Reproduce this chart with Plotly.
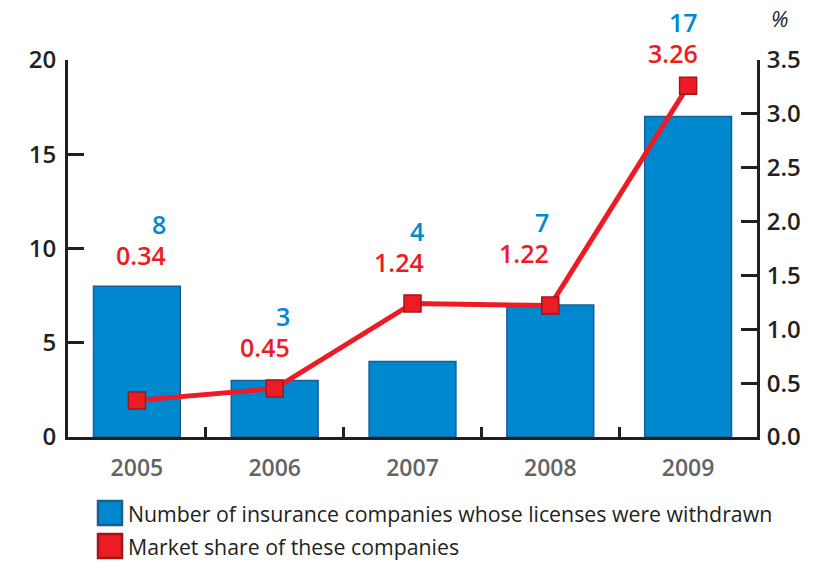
import plotly.graph_objects as go

years = ["2005", "2006", "2007", "2008", "2009"]
companies = [8, 3, 4, 7, 17]
market_share = [0.34, 0.45, 1.24, 1.22, 3.26]
legend_labels = ["Number of insurance companies whose licenses were withdrawn",
                 "Market share of these companies"]

BLUE = "#0088CF"
BLUE_EDGE = "#1B5E91"
RED = "#ED1C24"
RED_EDGE = "#A3151B"
INK = "#231F20"
FONT = "Open Sans"

# figure geometry (page body margin removed below)
W, H = 814, 562
PL, PT, PW, PH = 68, 60, 689, 377


def px(xp):
    return (xp - PL) / PW


def py(yp):
    return (PT + PH - yp) / PH


fig = go.Figure()
fig.add_trace(go.Bar(x=years, y=companies, width=0.63,
                     marker=dict(color=BLUE, line=dict(color=BLUE_EDGE, width=1.5)),
                     showlegend=False, yaxis="y"))
fig.add_trace(go.Scatter(x=years, y=market_share, mode="lines+markers",
                         line=dict(color=RED, width=5),
                         marker=dict(symbol="square", size=17, color=RED,
                                     line=dict(color=RED_EDGE, width=1.5)),
                         showlegend=False, yaxis="y2"))

# label placement offsets (pixels): red label, blue label above it
lab_dx = [30, 16, 12, 0, 11]
lab_dy = [31, 33, 41, 52, 33]
annotations = []
for i, yr in enumerate(years):
    top = max(companies[i], market_share[i] * 20 / 3.5)
    annotations.append(dict(x=i, y=top, xref="x", yref="y", text=f"{market_share[i]:.2f}",
                            showarrow=False, xanchor="right", yanchor="middle",
                            xshift=lab_dx[i], yshift=lab_dy[i], borderpad=0,
                            font=dict(family=FONT, size=25, color=RED, weight=600)))
    annotations.append(dict(x=i, y=top, xref="x", yref="y", text=str(companies[i]),
                            showarrow=False, xanchor="right", yanchor="middle",
                            xshift=lab_dx[i], yshift=lab_dy[i] + 31, borderpad=0,
                            font=dict(family=FONT, size=25, color=BLUE, weight=600)))

annotations.append(dict(x=px(780), y=py(18), xref="paper", yref="paper", text="<i>%</i>",
                        showarrow=False, xanchor="center", yanchor="middle",
                        font=dict(family=FONT, size=22, color=INK)))

# manual legend
shapes = []
leg_colors = [(BLUE, BLUE_EDGE), (RED, RED_EDGE)]
leg_y = [513, 546]
for (fc, ec), ly, txt in zip(leg_colors, leg_y, legend_labels):
    shapes.append(dict(type="rect", xref="paper", yref="paper",
                       x0=px(98), x1=px(122), y0=py(ly + 12), y1=py(ly - 12),
                       fillcolor=fc, line=dict(color=ec, width=2.5)))
    annotations.append(dict(x=px(126), y=py(ly), xref="paper", yref="paper",
                            text=txt, showarrow=False, xanchor="left", yanchor="middle",
                            font=dict(family=FONT, size=21.3, color=INK)))

fig.update_layout(
    width=W, height=H,
    margin=dict(l=PL, r=W - PL - PW, t=PT, b=H - PT - PH, pad=0),
    plot_bgcolor="white", paper_bgcolor="white",
    bargap=0.37,
    xaxis=dict(type="category", showline=True, linecolor=INK, linewidth=3,
               ticks="inside", tickson="boundaries", ticklen=10, tickwidth=3, tickcolor=INK,
               tickfont=dict(family=FONT, size=23, color="#636466", weight=600),
               ticklabelstandoff=8,
               showgrid=False, range=[-0.5, 4.5], zeroline=False),
    yaxis=dict(range=[0, 20], dtick=5, showline=True, linecolor=INK, linewidth=3,
               ticks="inside", ticklen=16, tickwidth=3, tickcolor=INK,
               tickfont=dict(family=FONT, size=24, color=INK, weight=600),
               ticklabelstandoff=4,
               showgrid=False, zeroline=False),
    yaxis2=dict(range=[0, 3.5], dtick=0.5, tickformat=".1f", overlaying="y", side="right",
                showline=True, linecolor=INK, linewidth=3,
                ticks="inside", ticklen=16, tickwidth=3, tickcolor=INK,
                tickfont=dict(family=FONT, size=24, color=INK, weight=600),
                ticklabelstandoff=2,
                showgrid=False, zeroline=False),
    annotations=annotations, shapes=shapes,
)

fig.write_html("out.html", config={"displayModeBar": False},
               post_script="document.body.style.margin='0';")
